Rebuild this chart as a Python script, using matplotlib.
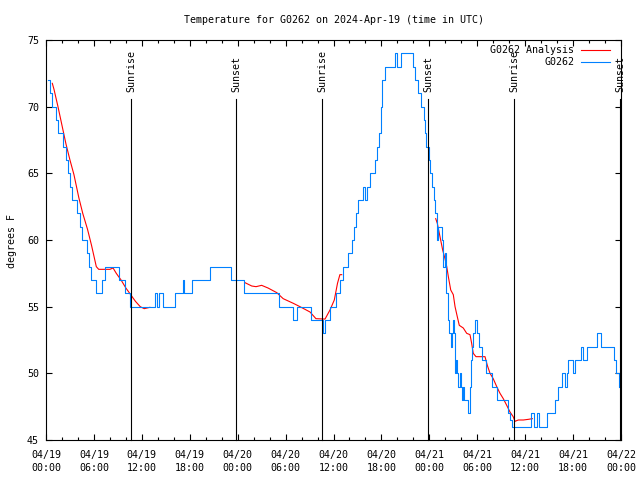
import numpy as np
import matplotlib
matplotlib.use("Agg")
import matplotlib.pyplot as plt
from matplotlib.ticker import MultipleLocator, FixedLocator

# ---- data (hours since 2024-04-19 00:00 UTC) ----
obs_h = [0.29, 0.54, 0.71, 1.25, 1.54, 2.17, 2.5, 2.8, 3.0, 3.2, 3.6, 3.9, 4.26, 4.5,
         5.1, 5.35, 5.6, 6.3, 7.0, 7.4, 9.1, 9.9, 10.5, 13.7, 13.85, 14.1, 14.6, 14.75, 16.2,
         17.1, 17.3, 17.5, 18.3, 20.5, 23.2, 24.8, 29.2, 30.97, 31.39, 31.59, 33.15, 33.4,
         34.65, 34.94, 35.56, 35.77, 36.31, 36.81, 37.23, 37.85, 38.28, 38.57, 38.82,
         39.1, 39.73, 39.94, 40.16, 40.57, 41.2, 41.41, 41.7, 41.9, 42.07, 42.5, 43.7,
         44.0, 44.43, 45.95, 46.0, 46.2, 46.6, 46.9, 47.3, 47.45, 47.6, 47.9, 48.1, 48.3,
         48.6, 48.77, 49.0, 49.1, 49.55, 49.68, 49.75, 49.9, 50.09, 50.28, 50.38, 50.47,
         50.68, 50.8, 50.93, 51.09, 51.21, 51.34, 51.5, 51.63, 51.84, 51.97, 52.09, 52.18,
         52.34, 52.88, 53.09, 53.18, 53.3, 53.5, 53.72, 54.0, 54.2, 54.6, 55.1, 55.9,
         56.47, 57.8, 58.1, 58.3, 60.69, 61.14, 61.52, 61.73, 62.77, 63.74, 64.15, 64.57,
         64.99, 65.2, 65.4, 65.95, 66.24, 66.95, 67.2, 67.7, 68.96, 69.46, 71.16, 71.37,
         71.7, 71.79]
obs_t = [72, 71, 70, 69, 68, 67, 66, 65, 64, 63, 63, 62, 61, 60,
         59, 58, 57, 56, 57, 58, 57, 56, 55, 56, 55, 56, 55, 55, 56,
         57, 56, 56, 57, 58, 57, 56, 55, 54, 55, 55, 54, 54,
         53, 54, 55, 55, 56, 57, 58, 59, 60, 61, 62,
         63, 64, 63, 64, 65, 66, 67, 68, 70, 72, 73, 74,
         73, 74, 74, 73, 72, 71, 70, 69, 68, 67, 66, 65, 64,
         63, 62, 60, 61, 60, 59, 58, 59, 56, 55, 54, 53,
         52, 53, 54, 53, 50, 51, 50, 49, 50, 49, 48, 49,
         48, 47, 49, 51, 52, 53, 54, 53, 52, 51, 50, 49,
         48, 47, 46.5, 46, 47, 46, 47, 46, 47, 48, 49, 50,
         49, 50, 51, 50, 51, 52, 51, 52, 53, 52, 51, 50,
         49, 49]

ana_h = [0.79, 1.0, 1.5, 2.0, 2.5, 3.0, 3.5, 4.1, 4.6, 5.2, 5.7, 6.3, 6.6, 8.0, 8.4,
         8.8, 9.4, 10.0, 10.6, 11.2, 11.8, 12.3, 13.0, np.nan,
         24.92, 25.76, 26.3, 27.0, 27.8, 28.9, 29.7, 30.97, 31.8, 33.06, 33.8, 34.94,
         35.56, 36.1, 36.5, 36.8, 37.03, np.nan,
         48.8, 49.0, 49.25, 49.42, 49.67, 49.96, 50.18, 50.38, 50.68, 51.0, 51.22,
         51.5, 51.75, 52.25, 52.68, 53.09, 53.3, 53.5, 53.84, 54.97, 55.26, 55.6,
         56.0, 56.44, 56.85, 57.26, 57.69, 58.1, 58.5, 58.73, 59.14, 59.77, 60.4, 60.9]
ana_t = [71.75, 71.3, 70.0, 68.6, 67.2, 66.0, 64.9, 63.2, 62.0, 60.8, 59.6, 58.0, 57.8,
         57.8, 57.9, 57.5, 57.0, 56.4, 55.9, 55.4, 55.0, 54.85, 54.95, np.nan,
         56.8, 56.55, 56.5, 56.6, 56.4, 56.05, 55.6, 55.25, 55.0, 54.6, 54.1, 54.07,
         54.75, 55.5, 56.75, 57.4, 57.4, np.nan,
         61.6, 61.25, 60.5, 60.0, 59.25, 58.6, 58.0, 57.25, 56.25, 55.9, 55.0,
         54.25, 53.6, 53.4, 53.0, 52.9, 52.25, 51.5, 51.25, 51.25, 50.6, 50.0,
         49.6, 49.0, 48.5, 48.1, 47.6, 47.1, 46.75, 46.4, 46.5, 46.5, 46.55, 46.6]

event_h = [10.65, 23.83, 34.62, 47.87, 58.6, 71.93]
event_lbl = ["Sunrise", "Sunset", "Sunrise", "Sunset", "Sunrise", "Sunset"]

xtick_h = list(range(0, 73, 6))
xtick_lbl = ["04/19\n00:00", "04/19\n06:00", "04/19\n12:00", "04/19\n18:00",
             "04/20\n00:00", "04/20\n06:00", "04/20\n12:00", "04/20\n18:00",
             "04/21\n00:00", "04/21\n06:00", "04/21\n12:00", "04/21\n18:00",
             "04/22\n00:00"]
yticks = [45, 50, 55, 60, 65, 70, 75]

FONT = "DejaVu Sans Mono"
FS = 7.2
LW = 0.8
plt.rcParams['font.family'] = FONT

fig = plt.figure(figsize=(6.4, 4.8), dpi=100)
ax = fig.add_axes([46/640, 40/480, 575/640, 400/480])

ax.plot(ana_h, ana_t, color="#ff0000", lw=LW)
ax.plot(obs_h, obs_t, color="#0080ff", lw=LW, drawstyle="steps-post")

for h, lbl in zip(event_h, event_lbl):
    ax.plot([h, h], [0, 0.8525], color="black", lw=LW,
            transform=ax.get_xaxis_transform(), clip_on=False)
    ax.text(h, 0.87, lbl, rotation=90, ha="center", va="bottom",
            transform=ax.get_xaxis_transform(), fontsize=FS, family=FONT)

ax.set_xlim(0, 72)
ax.set_ylim(45, 75)
ax.xaxis.set_major_locator(FixedLocator(xtick_h))
ax.set_xticklabels(xtick_lbl, fontsize=FS, linespacing=1.35)
ax.xaxis.set_minor_locator(MultipleLocator(2))
ax.set_yticks(yticks)
ax.set_yticklabels([str(v) for v in yticks], fontsize=FS)
ax.tick_params(axis="both", which="major", direction="in", length=4.5, width=LW,
               top=True, right=True, colors="black")
ax.tick_params(axis="x", which="major", pad=7)
ax.tick_params(axis="y", which="major", pad=5)
ax.tick_params(axis="x", which="minor", direction="in", length=2.5, width=LW,
               top=True)
for s in ax.spines.values():
    s.set_linewidth(LW)
    s.set_color("black")

fig.text(333.5/640, 1 - 20/480, "Temperature for G0262 on 2024-Apr-19 (time in UTC)",
         ha="center", va="center", fontsize=FS, family=FONT)
fig.text(12/640, 1 - 241/480, "degrees F", rotation=90, ha="center", va="center",
         fontsize=FS, family=FONT)

# legend
leg = [("G0262 Analysis", "#ff0000", 0.975), ("G0262", "#0080ff", 0.944)]
for lbl, col, yy in leg:
    ax.text(0.9183, yy, lbl, ha="right", va="center", transform=ax.transAxes,
            fontsize=FS, family=FONT)
    ax.plot([0.9304, 0.9809], [yy, yy], color=col, lw=LW, transform=ax.transAxes,
            clip_on=False)

fig.savefig("out.png", dpi=100)
